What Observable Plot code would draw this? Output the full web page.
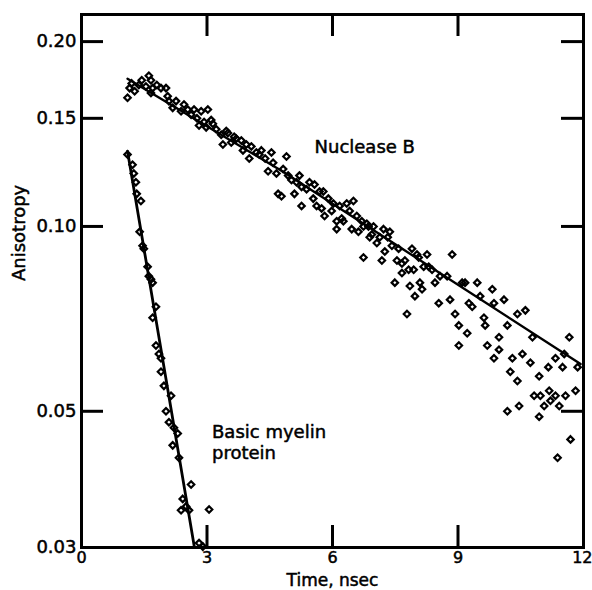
<!DOCTYPE html>
<html><head><meta charset="utf-8">
<script src="https://cdn.jsdelivr.net/npm/d3@7"></script>
<script src="https://cdn.jsdelivr.net/npm/@observablehq/plot@0.6"></script>
<style>html,body{margin:0;padding:0;background:#fff;}</style>
</head><body><div id="chart"></div>
<script>
// Nuclease B: [time (ns), anisotropy]
const nuclease = [
[1.10,0.162],[1.15,0.168],[1.20,0.171],[1.27,0.166],[1.37,0.170],[1.44,0.173],[1.54,0.169],[1.61,0.176],[1.66,0.173],[1.70,0.168],
[1.66,0.165],[1.80,0.170],[1.90,0.168],[2.02,0.168],[2.06,0.163],[2.09,0.160],[2.18,0.156],[2.26,0.160],[2.38,0.154],[2.45,0.158],
[2.54,0.155],[2.62,0.152],[2.69,0.155],[2.76,0.150],[2.81,0.146],[2.86,0.154],[2.93,0.148],[2.98,0.145],[3.02,0.155],[3.10,0.149],
[3.14,0.147],[3.22,0.144],[3.34,0.141],[3.38,0.136],[3.46,0.143],[3.50,0.142],[3.58,0.137],[3.65,0.140],[3.70,0.139],[3.82,0.138],
[3.86,0.133],[3.94,0.136],[4.01,0.129],[4.06,0.135],[4.18,0.132],[4.25,0.131],[4.30,0.133],[4.39,0.129],[4.46,0.123],[4.54,0.132],
[4.58,0.127],[4.66,0.122],[4.70,0.113],[4.78,0.112],[4.82,0.124],[4.90,0.130],[4.94,0.121],[5.02,0.119],[5.09,0.113],[5.14,0.118],
[5.21,0.121],[5.26,0.116],[5.26,0.108],[5.38,0.115],[5.45,0.118],[5.54,0.111],[5.57,0.117],[5.62,0.108],[5.69,0.114],[5.74,0.107],
[5.78,0.114],[5.81,0.104],[5.90,0.111],[5.98,0.106],[6.02,0.109],[6.10,0.102],[6.10,0.099],[6.17,0.108],[6.22,0.103],[6.26,0.102],
[6.34,0.109],[6.41,0.106],[6.46,0.099],[6.50,0.110],[6.58,0.104],[6.62,0.098],[6.70,0.102],[6.74,0.100],[6.74,0.089],[6.82,0.101],
[6.86,0.100],[6.89,0.096],[6.94,0.097],[6.98,0.100],[7.06,0.094],[7.13,0.096],[7.18,0.088],[7.22,0.099],[7.25,0.091],[7.32,0.096],
[7.37,0.098],[7.42,0.093],[7.49,0.081],[7.54,0.088],[7.58,0.092],[7.66,0.087],[7.66,0.084],[7.73,0.088],[7.78,0.072],[7.82,0.085],
[7.85,0.080],[7.90,0.092],[7.94,0.085],[7.97,0.077],[8.02,0.090],[8.06,0.089],[8.09,0.081],[8.14,0.079],[8.18,0.086],[8.26,0.090],
[8.30,0.086],[8.38,0.085],[8.45,0.081],[8.54,0.075],[8.57,0.083],[8.74,0.083],[8.81,0.076],[8.86,0.090],[8.93,0.072],[9.02,0.069],
[9.02,0.064],[9.10,0.081],[9.17,0.081],[9.22,0.067],[9.26,0.075],[9.34,0.074],[9.46,0.081],[9.53,0.077],[9.62,0.071],[9.65,0.069],
[9.70,0.064],[9.82,0.079],[9.86,0.075],[9.86,0.061],[9.98,0.063],[9.98,0.066],[10.10,0.076],[10.18,0.069],[10.18,0.050],[10.30,0.061],
[10.25,0.058],[10.42,0.056],[10.42,0.072],[10.46,0.051],[10.54,0.062],[10.61,0.073],[10.73,0.060],[10.78,0.066],[10.82,0.053],[10.94,0.057],
[10.94,0.049],[10.97,0.053],[11.06,0.051],[11.16,0.059],[11.18,0.054],[11.21,0.052],[11.33,0.061],[11.33,0.053],[11.42,0.051],[11.50,0.059],
[11.54,0.062],[11.57,0.053],[11.66,0.066],[11.69,0.045],[11.81,0.054],[11.86,0.059],[11.38,0.042]
];
// Basic myelin protein: [time (ns), anisotropy]
const myelin = [
[1.10,0.131],[1.22,0.126],[1.25,0.122],[1.30,0.118],[1.32,0.113],[1.42,0.110],[1.39,0.098],[1.46,0.093],[1.49,0.092],[1.58,0.086],
[1.61,0.083],[1.66,0.082],[1.70,0.081],[1.78,0.074],[1.70,0.071],[1.78,0.064],[1.85,0.062],[1.90,0.061],[1.90,0.058],[1.97,0.055],
[2.14,0.053],[2.02,0.050],[2.09,0.048],[2.21,0.047],[2.30,0.046],[2.18,0.044],[2.33,0.042],[2.62,0.038],[2.42,0.036],[2.50,0.035],
[2.38,0.0345],[2.57,0.0345],[3.05,0.0346],[2.81,0.0305],[2.90,0.0301]
];
// fitted decay lines
const nucleaseFit = [[1.10,0.174],[4.80,0.123],[11.93,0.0597]];
const myelinFit = [[1.10,0.1326],[2.70,0.030]];

const xTickLabels = [0,3,6,9];
const xTickLabelsEdge = [12];
const yTickLabels = [0.03,0.05,0.10,0.15,0.20];
const xTickMarks = [3,6,9];
const yTickMarks = [0.05,0.10,0.15,0.20];

const labelText = ["Nuclease B","Basic myelin\nprotein"];
const labelT = [5.57,3.12];
const labelA = [0.1354,0.0446];

const W = 592, H = 590, mL = 81, mR = 9, mT = 14, mB = 43;
const innerW = W - mL - mR, innerH = H - mT - mB;
const tick = 22;
const font = "DejaVu Sans";
const bold = {stroke: "#000", strokeWidth: 0.5};

const chart = Plot.plot({
  width: W, height: H,
  marginLeft: mL, marginRight: mR, marginTop: mT, marginBottom: mB,
  style: {fontFamily: font, background: "#fff", color: "#000"},
  x: {domain: [0, 12]},
  y: {type: "log", domain: [0.03, 0.2214]},
  marks: [
    Plot.dot(nuclease, {x: d => d[0], y: d => d[1], symbol: "diamond2", r: 2.9, stroke: "#000", strokeWidth: 2.2, fill: "none"}),
    Plot.dot(myelin, {x: d => d[0], y: d => d[1], symbol: "diamond2", r: 2.9, stroke: "#000", strokeWidth: 2.2, fill: "none"}),
    Plot.line(nucleaseFit, {x: d => d[0], y: d => d[1], stroke: "#000", strokeWidth: 2.4}),
    Plot.line(myelinFit, {x: d => d[0], y: d => d[1], stroke: "#000", strokeWidth: 2.8}),
    Plot.tickY(yTickMarks, {y: d => d, insetRight: innerW - tick, stroke: "#000", strokeWidth: 3}),
    Plot.tickY(yTickMarks, {y: d => d, insetLeft: innerW - tick, stroke: "#000", strokeWidth: 3}),
    Plot.tickX(xTickMarks, {x: d => d, insetTop: innerH - tick, stroke: "#000", strokeWidth: 3}),
    Plot.tickX(xTickMarks, {x: d => d, insetBottom: innerH - tick, stroke: "#000", strokeWidth: 3}),
    Plot.frame({stroke: "#000", strokeWidth: 3}),
    Plot.axisY(yTickLabels, {anchor: "left", tickSize: 0, tickPadding: 5, tickFormat: d3.format(".2f"), fontSize: 18, label: null, fill: "#000"}),
    Plot.axisX(xTickLabels, {anchor: "bottom", tickSize: 0, tickPadding: 4, fontSize: 16, label: null, fill: "#000"}),
    Plot.axisX(xTickLabelsEdge, {anchor: "bottom", tickSize: 0, tickPadding: 4, fontSize: 16, label: null, fill: "#000", textAnchor: "end", dx: 9}),
    Plot.text(["Anisotropy"], {frameAnchor: "left", rotate: -90, dx: -62, fontSize: 18, fill: "#000", ...bold}),
    Plot.text(["Time, nsec"], {frameAnchor: "bottom", lineAnchor: "top", dy: 26, fontSize: 17, fill: "#000", ...bold}),
    Plot.text(labelText, {x: (d, i) => labelT[i], y: (d, i) => labelA[i], text: d => d, textAnchor: "start", fontSize: 18, lineHeight: 1.2, fill: "#000", ...bold})
  ]
});
// thicken axis tick labels slightly, like the printed original
chart.querySelectorAll("g[aria-label$='tick label']").forEach(el => {
  el.setAttribute("stroke", "#000"); el.setAttribute("stroke-width", "0.5");
});
document.getElementById("chart").appendChild(chart);
</script>
</body></html>
